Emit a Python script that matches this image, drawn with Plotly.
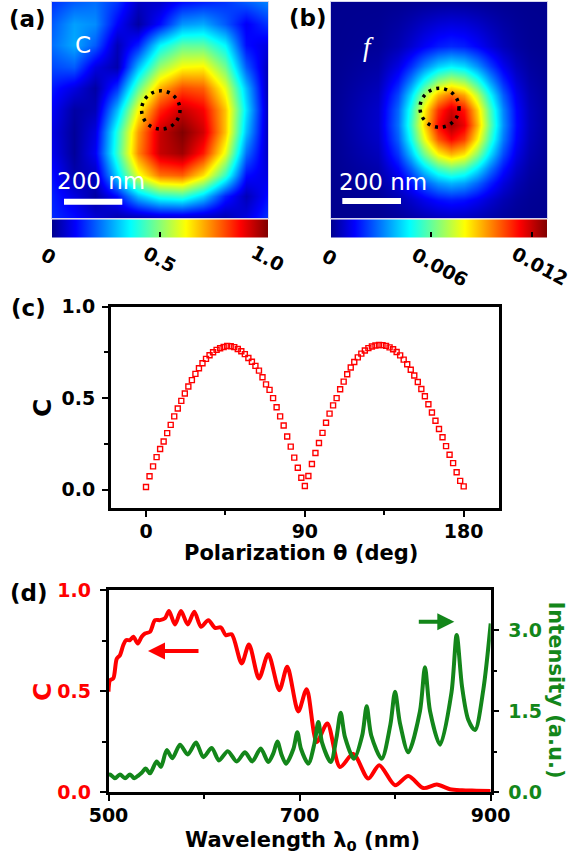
import plotly.graph_objects as go

# ---------------- data ----------------
# (a) normalized chirality map C, 11x11 samples, rows top -> bottom
map_pos_nm = [0, 74, 148, 222, 296, 370, 444, 518, 592, 666, 740]
c_map = [
    [0.16, 0.20, 0.22, 0.16, 0.05, 0.06, 0.12, 0.14, 0.16, 0.20, 0.24],
    [0.20, 0.27, 0.25, 0.11, 0.02, 0.12, 0.26, 0.28, 0.20, 0.10, 0.16],
    [0.22, 0.28, 0.20, 0.04, 0.14, 0.36, 0.46, 0.46, 0.36, 0.12, 0.08],
    [0.18, 0.20, 0.08, 0.03, 0.30, 0.52, 0.62, 0.63, 0.48, 0.20, 0.04],
    [0.13, 0.08, 0.02, 0.16, 0.46, 0.70, 0.80, 0.78, 0.60, 0.30, 0.03],
    [0.10, 0.02, 0.04, 0.30, 0.62, 0.84, 0.93, 0.88, 0.68, 0.34, 0.04],
    [0.08, 0.01, 0.08, 0.40, 0.72, 0.93, 1.00, 0.92, 0.68, 0.30, 0.04],
    [0.09, 0.01, 0.10, 0.42, 0.74, 0.93, 0.97, 0.85, 0.60, 0.22, 0.05],
    [0.12, 0.03, 0.05, 0.33, 0.60, 0.76, 0.78, 0.65, 0.42, 0.12, 0.08],
    [0.14, 0.08, 0.02, 0.12, 0.30, 0.40, 0.42, 0.32, 0.14, 0.04, 0.12],
    [0.15, 0.12, 0.07, 0.03, 0.03, 0.05, 0.05, 0.04, 0.03, 0.08, 0.16],
]
# (b) map f (in units of 1e-4), sampled on a finer grid around the hot spot
f_x_nm = [0, 160, 230, 275, 320, 365, 410, 455, 500, 545, 590, 635, 680, 740]
f_y_nm = [0, 150, 220, 270, 320, 370, 420, 470, 520, 570, 620, 680, 740]
f_map_1e4 = [
    [0, 0.08, 0.28, 0.53, 0.82, 1.08, 1.20, 1.12, 0.88, 0.58, 0.32, 0.15, 0.06, 0.01],
    [0.01, 1.20, 4.47, 8.35, 13.07, 17.22, 19.08, 17.76, 13.91, 9.15, 5.07, 2.36, 0.92, 0.20],
    [0.03, 2.86, 10.64, 19.89, 31.16, 41.03, 45.47, 42.32, 33.14, 21.80, 12.07, 5.62, 2.20, 0.48],
    [0.04, 4.52, 16.82, 31.44, 49.24, 64.84, 71.86, 66.87, 52.37, 34.45, 19.08, 8.87, 3.48, 0.75],
    [0.06, 6.22, 23.11, 43.20, 67.67, 89.10, 98.75, 91.89, 71.97, 47.34, 26.22, 12.19, 4.78, 1.04],
    [0.07, 7.45, 27.70, 51.76, 81.08, 106.77, 118.32, 110.11, 86.24, 56.73, 31.42, 14.61, 5.73, 1.24],
    [0.07, 7.78, 28.94, 54.09, 84.73, 111.58, 123.65, 115.07, 90.12, 59.28, 32.83, 15.27, 5.99, 1.30],
    [0.06, 7.09, 26.36, 49.27, 77.17, 101.63, 112.63, 104.81, 82.08, 54.00, 29.91, 13.91, 5.45, 1.18],
    [0.05, 5.63, 20.94, 39.13, 61.30, 80.72, 89.46, 83.25, 65.20, 42.89, 23.75, 11.05, 4.33, 0.94],
    [0.04, 3.90, 14.50, 27.10, 42.45, 55.90, 61.95, 57.65, 45.15, 29.70, 16.45, 7.65, 3.00, 0.65],
    [0.02, 2.36, 8.76, 16.37, 25.64, 33.76, 37.42, 34.82, 27.27, 17.94, 9.94, 4.62, 1.81, 0.39],
    [0.01, 1.07, 3.97, 7.43, 11.63, 15.32, 16.97, 15.80, 12.37, 8.14, 4.51, 2.10, 0.82, 0.18],
    [0, 0.40, 1.48, 2.76, 4.33, 5.70, 6.32, 5.88, 4.61, 3.03, 1.68, 0.78, 0.31, 0.07],
]
c_bar_ticks = [0, 0.5, 1.0]
c_bar_labels = ["0", "0.5", "1.0"]
f_bar_ticks = [0, 0.006, 0.012]
f_bar_labels = ["0", "0.006", "0.012"]

# (c) C versus polarization angle
theta_deg = [0, 2, 4, 6, 8, 10, 12, 14, 16, 18, 20, 22, 24, 26, 28, 30, 32, 34, 36, 38,
             40, 42, 44, 46, 48, 50, 52, 54, 56, 58, 60, 62, 64, 66, 68, 70, 72, 74, 76, 78,
             80, 82, 84, 86, 88, 90, 92, 94, 96, 98, 100, 102, 104, 106, 108, 110, 112, 114,
             116, 118, 120, 122, 124, 126, 128, 130, 132, 134, 136, 138, 140, 142, 144, 146,
             148, 150, 152, 154, 156, 158, 160, 162, 164, 166, 168, 170, 172, 174, 176, 178, 180]
c_theta = [0.015, 0.073, 0.127, 0.178, 0.222, 0.263, 0.309, 0.354, 0.400, 0.443,
           0.485, 0.525, 0.563, 0.598, 0.632, 0.663, 0.690, 0.714, 0.734, 0.750,
           0.763, 0.772, 0.779, 0.785, 0.783, 0.778, 0.768, 0.756, 0.740, 0.719,
           0.698, 0.676, 0.650, 0.614, 0.575, 0.545, 0.500, 0.450, 0.400, 0.350,
           0.290, 0.235, 0.175, 0.120, 0.065, 0.020, 0.075, 0.140, 0.200, 0.255,
           0.310, 0.365, 0.415, 0.460, 0.500, 0.548, 0.590, 0.630, 0.667, 0.697,
           0.722, 0.743, 0.760, 0.773, 0.782, 0.787, 0.790, 0.789, 0.785, 0.777,
           0.767, 0.752, 0.733, 0.710, 0.685, 0.655, 0.623, 0.588, 0.550, 0.510,
           0.466, 0.421, 0.376, 0.331, 0.286, 0.238, 0.191, 0.145, 0.095, 0.048, 0.018]

# (d) spectra
wl_c = [500, 501.6, 505, 508.6, 512, 515.5, 518.3, 522.5, 526, 530.6, 534.7, 538.2, 543.4,
        548.7, 553.9, 559.1, 563.3, 569.6, 575.9, 582.9, 589.8, 596.8, 604.5, 611.5, 617.7,
        622.7, 628.9, 639.4, 647, 657.5, 667.2, 678.8, 687.1, 698.6, 707.4, 717.9, 729,
        742.3, 756.2, 771.9, 783.4, 799.9, 813.8, 829.5, 843.5, 857.4, 870, 885, 900]
c_spec = [0.497, 0.554, 0.563, 0.660, 0.678, 0.728, 0.752, 0.752, 0.769, 0.736, 0.769, 0.785,
          0.793, 0.851, 0.851, 0.860, 0.896, 0.830, 0.896, 0.830, 0.893, 0.818, 0.851, 0.813,
          0.815, 0.777, 0.781, 0.637, 0.731, 0.563, 0.683, 0.505, 0.620, 0.400, 0.510, 0.249,
          0.340, 0.125, 0.190, 0.068, 0.134, 0.035, 0.081, 0.021, 0.038, 0.015, 0.010, 0.008,
          0.006]
wl_i = [500, 501.6, 506.8, 512, 517.3, 522.5, 527, 531.2, 534.7, 538.9, 543.4, 550.4, 554.9,
        560.9, 566.8, 574.8, 582.9, 591.6, 599.2, 608, 615.6, 624.8, 634.2, 642.9, 650.5,
        659.3, 667.2, 672.5, 676.7, 681, 685.8, 693.5, 697.6, 701.5, 709.1, 715.5, 719.6,
        723.5, 732.6, 738.5, 743, 747.5, 756.9, 765.5, 770.2, 775, 785.9, 795, 799.9, 805,
        813.8, 826, 831.2, 836.5, 847, 859, 864.4, 870, 876.5, 883.6, 892.3, 900]
i_spec = [0.30, 0.33, 0.26, 0.33, 0.26, 0.33, 0.26, 0.31, 0.36, 0.44, 0.35, 0.57, 0.47,
          0.78, 0.63, 0.88, 0.70, 0.92, 0.65, 0.82, 0.59, 0.76, 0.57, 0.74, 0.57,
          0.81, 0.56, 0.72, 0.94, 0.70, 0.53, 0.80, 1.11, 0.80, 0.53, 0.90, 1.30,
          0.92, 0.56, 1.00, 1.47, 1.02, 0.62, 1.05, 1.59, 1.05, 0.62, 1.25, 1.86, 1.28,
          0.74, 1.50, 2.31, 1.50, 0.88, 1.85, 2.91, 1.95, 1.34, 1.15, 1.90, 3.12]

# ---------------- styling ----------------
W, H = 571, 860
FONT = "DejaVu Sans"
RED = "#ff0000"
GREEN = "#13861a"
JET = [[0, "rgb(0,0,143)"], [0.11, "rgb(0,0,255)"], [0.365, "rgb(0,255,255)"],
       [0.62, "rgb(255,255,0)"], [0.873, "rgb(255,0,0)"], [1, "rgb(128,0,0)"]]


def px(x):
    return x / W


def py(y):
    return 1 - y / H


fig = go.Figure()

bar_common = dict(orientation="h", thickness=18, thicknessmode="pixels",
                  lenmode="fraction", len=216 / W, xpad=0, ypad=0,
                  yanchor="middle", y=py(231), outlinewidth=0,
                  ticks="inside", ticklen=5, tickcolor="black", tickwidth=1.5,
                  showticklabels=False)

fig.add_trace(go.Heatmap(z=c_map, x=map_pos_nm, y=map_pos_nm, colorscale=JET,
                         zmin=0, zmax=1.0, zsmooth="best", hoverinfo="skip",
                         xaxis="x", yaxis="y",
                         colorbar=dict(x=px(160), tickvals=c_bar_ticks, **bar_common)))
f_map = [[v * 1e-4 for v in row] for row in f_map_1e4]
fig.add_trace(go.Heatmap(z=f_map, x=f_x_nm, y=f_y_nm, colorscale=JET,
                         zmin=0, zmax=0.0129, zsmooth="best", hoverinfo="skip",
                         xaxis="x2", yaxis="y2",
                         colorbar=dict(x=px(439), tickvals=f_bar_ticks, **bar_common)))

fig.add_trace(go.Scatter(x=theta_deg, y=c_theta, mode="markers", xaxis="x3", yaxis="y3",
                         marker=dict(symbol="square-open", size=5, color=RED,
                                     line=dict(color=RED, width=1.4)),
                         hoverinfo="skip"))

fig.add_trace(go.Scatter(x=wl_c, y=c_spec, mode="lines", xaxis="x4", yaxis="y4",
                         line=dict(color=RED, width=4, shape="spline", smoothing=0.8),
                         hoverinfo="skip"))
fig.add_trace(go.Scatter(x=wl_i, y=i_spec, mode="lines", xaxis="x4", yaxis="y5",
                         line=dict(color=GREEN, width=4, shape="spline", smoothing=0.8),
                         hoverinfo="skip"))

img_axis = dict(showticklabels=False, ticks="", showgrid=False, zeroline=False,
                showline=True, linecolor="#d4d4ee", linewidth=1, mirror=True)
tickfont = dict(family=FONT, size=19, color="black", weight="bold")
ax_common = dict(showgrid=False, zeroline=False, showline=True, linecolor="black",
                 linewidth=2.5, ticks="outside", ticklen=6, tickwidth=2.2,
                 tickcolor="black", tickfont=tickfont)

fig.update_layout(
    width=W, height=H, margin=dict(l=0, r=0, t=0, b=0, autoexpand=False),
    paper_bgcolor="white", plot_bgcolor="white", showlegend=False,
    xaxis=dict(domain=[px(52), px(268)], range=[0, 740], anchor="y", **img_axis),
    yaxis=dict(domain=[py(218), py(2)], range=[740, 0], anchor="x", **img_axis),
    xaxis2=dict(domain=[px(331), px(547)], range=[0, 740], anchor="y2", **img_axis),
    yaxis2=dict(domain=[py(218), py(2)], range=[740, 0], anchor="x2", **img_axis),
    xaxis3=dict(domain=[px(110.7), px(499)], range=[-20, 200], anchor="y3",
                tick0=0, dtick=90, mirror=True, ticklabelstandoff=-2,
                minor=dict(tick0=0, dtick=45, ticks="outside", ticklen=4, tickwidth=2,
                           tickcolor="black"),
                **ax_common),
    yaxis3=dict(domain=[py(508), py(306.5)], range=[-0.1, 1.0], anchor="x3",
                tick0=0, dtick=0.5, tickformat=".1f", mirror=True, ticklabelstandoff=3,
                minor=dict(tick0=0, dtick=0.25, ticks="outside", ticklen=4, tickwidth=2,
                           tickcolor="black"),
                **ax_common),
    xaxis4=dict(domain=[px(108.5), px(490.7)], range=[500, 900], anchor="y4",
                tick0=500, dtick=200, mirror=True, ticklabelstandoff=-2,
                minor=dict(tick0=500, dtick=100, ticks="outside", ticklen=4, tickwidth=2,
                           tickcolor="black"),
                **ax_common),
    yaxis4=dict(domain=[py(792.3), py(590)], range=[0, 1.0], anchor="x4",
                tick0=0, dtick=0.5, tickformat=".1f", ticklabelstandoff=5,
                minor=dict(tick0=0, dtick=0.25, ticks="outside", ticklen=4, tickwidth=2,
                           tickcolor="black"),
                **{**ax_common, "tickfont": {**tickfont, "color": RED}}),
    yaxis5=dict(domain=[py(792.3), py(590)], range=[0, 3.74], anchor="x4",
                overlaying="y4", side="right",
                tick0=0, dtick=1.5, tickformat=".1f", ticklabelstandoff=5,
                minor=dict(tick0=0, dtick=0.75, ticks="outside", ticklen=4, tickwidth=2,
                           tickcolor="black"),
                **{**ax_common, "tickfont": {**tickfont, "color": GREEN}}),
)

ann = []


def text(x, y, s, size, color="black", bold=True, angle=0, family=FONT, style="normal"):
    ann.append(dict(x=px(x), y=py(y), xref="paper", yref="paper", text=s,
                    showarrow=False, textangle=angle, xanchor="center", yanchor="middle",
                    font=dict(family=family, size=size, color=color,
                              weight="bold" if bold else "normal", style=style)))


# panel labels
text(27.5, 19, "(a)", 23)
text(307.5, 18, "(b)", 23)
text(28.4, 308, "(c)", 23)
text(29.3, 593, "(d)", 23)

# overlays on the maps
text(82.5, 45, "C", 23, color="white", bold=False)
text(368, 47, "f", 27, color="white", bold=False, family="Liberation Serif", style="italic")
text(100.5, 181, "200 nm", 23, color="white", bold=False)
text(382.5, 181.5, "200 nm", 23, color="white", bold=False)

# colorbar tick labels (rotated)
for xpos, ypos, lab in zip([49, 159.5, 267.5], [256, 259, 258], c_bar_labels):
    text(xpos, ypos, lab, 19, angle=28)
for xpos, ypos, lab in zip([329, 440, 540], [257, 267, 266], f_bar_labels):
    text(xpos, ypos, lab, 19, angle=28)

# axis titles
text(300.5, 553, "Polarization θ (deg)", 21)
text(42, 408, "C", 25, angle=-90)
text(302, 841, "Wavelength λ<sub>0</sub> (nm)", 21)
text(42, 692, "C", 25, color=RED, angle=-90)
text(555.5, 690, "Intensity (a.u.)", 21, color=GREEN, angle=90)

# arrows in (d)
ann.append(dict(x=px(148), y=py(651), xref="paper", yref="paper", text="",
                showarrow=True, ax=52, ay=0, arrowhead=2, arrowsize=0.85,
                arrowwidth=4, arrowcolor=RED))
ann.append(dict(x=px(454.3), y=py(621.7), xref="paper", yref="paper", text="",
                showarrow=True, ax=-37, ay=0, arrowhead=2, arrowsize=0.85,
                arrowwidth=4, arrowcolor=GREEN))

fig.update_layout(annotations=ann)

shapes = [
    dict(type="line", xref="paper", yref="paper", x0=px(64), x1=px(122.3),
         y0=py(201.7), y1=py(201.7), line=dict(color="white", width=6)),
    dict(type="line", xref="paper", yref="paper", x0=px(342.3), x1=px(401),
         y0=py(201), y1=py(201), line=dict(color="white", width=6)),
    dict(type="circle", xref="paper", yref="paper", x0=px(160.8 - 19.2), x1=px(160.8 + 19.2),
         y0=py(110 + 19.2), y1=py(110 - 19.2),
         line=dict(color="black", width=3.5, dash="3px,5px")),
    dict(type="circle", xref="paper", yref="paper", x0=px(439.5 - 19.5), x1=px(439.5 + 19.5),
         y0=py(107.8 + 19.5), y1=py(107.8 - 19.5),
         line=dict(color="black", width=3.5, dash="3px,5px")),
]
fig.update_layout(shapes=shapes)

fig.write_html("out.html", config={"displayModeBar": False},
               post_script="document.body.style.margin='0px';")
